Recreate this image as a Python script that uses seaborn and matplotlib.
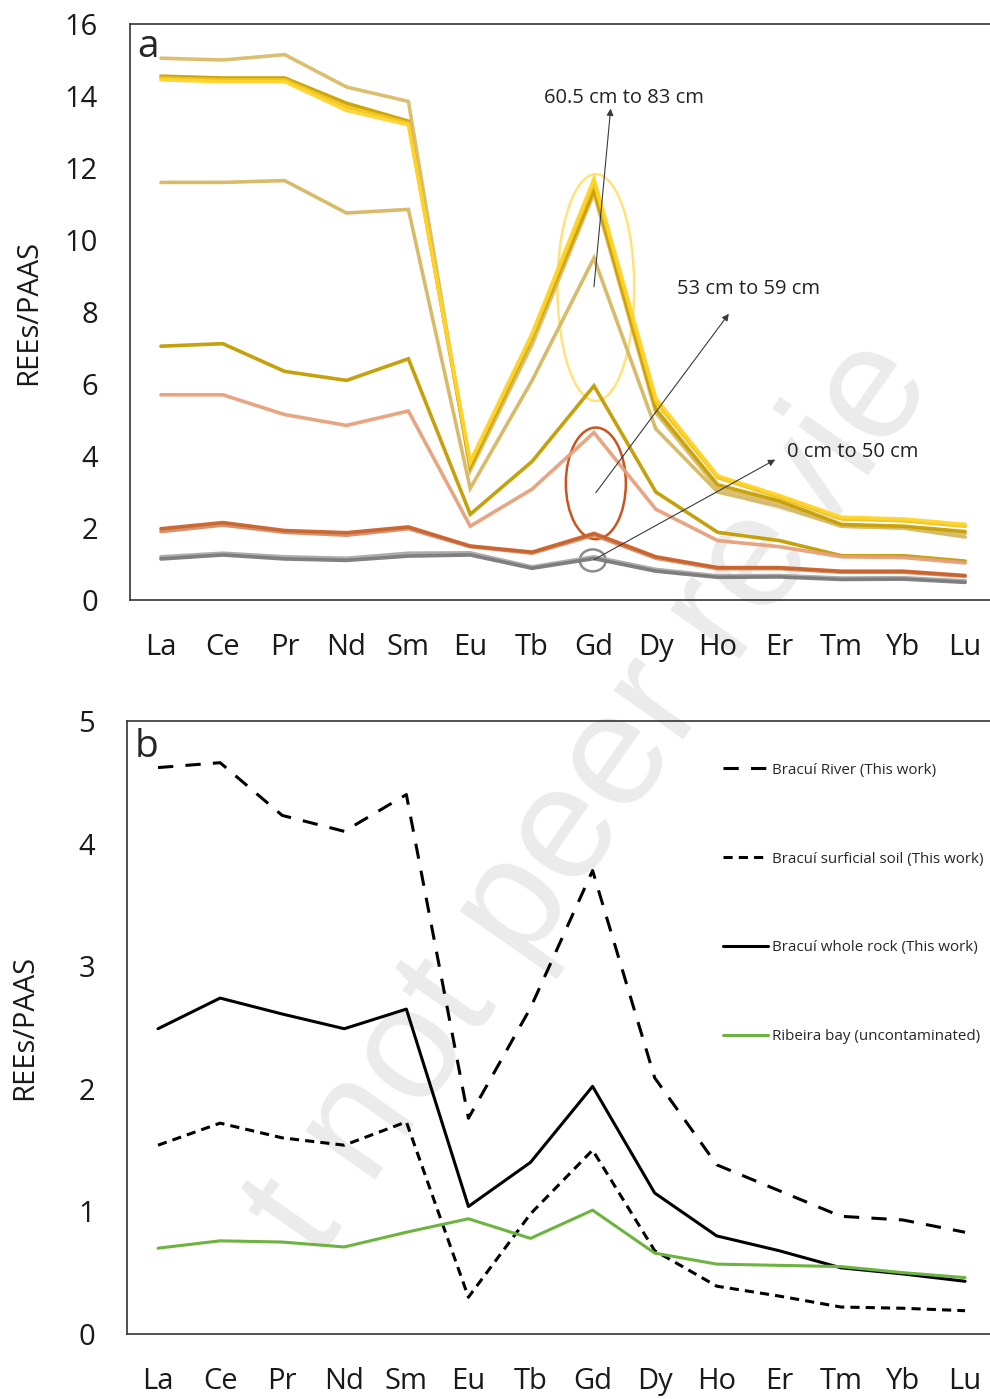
import numpy as np
import pandas as pd
import matplotlib
matplotlib.use("Agg")
import matplotlib.pyplot as plt
import seaborn as sns
from matplotlib.patches import Ellipse

sns.set_theme(style="white")
plt.rcParams["font.family"] = ["Open Sans", "DejaVu Sans"]

elements = ["La", "Ce", "Pr", "Nd", "Sm", "Eu", "Tb", "Gd", "Dy", "Ho", "Er", "Tm", "Yb", "Lu"]

# ---- panel a: sediment core profiles (REE / PAAS) ----
core_khaki_top = [15.05, 15.0, 15.15, 14.25, 13.85, 3.6, 7.1, 11.3, 5.2, 3.1, 2.7, 2.05, 2.0, 1.85]
core_gold_dark = [14.55, 14.5, 14.5, 13.8, 13.3, 3.7, 7.3, 11.4, 5.3, 3.2, 2.75, 2.1, 2.05, 1.9]
core_gold_mid = [14.5, 14.45, 14.45, 13.7, 13.25, 3.8, 7.35, 11.6, 5.5, 3.4, 2.85, 2.25, 2.2, 2.05]
core_yellow = [14.45, 14.4, 14.4, 13.6, 13.2, 3.85, 7.4, 11.7, 5.6, 3.45, 2.9, 2.3, 2.25, 2.1]
core_khaki_low = [11.6, 11.6, 11.65, 10.75, 10.85, 3.1, 6.1, 9.5, 4.75, 3.0, 2.6, 2.05, 2.0, 1.75]
core_ochre = [7.05, 7.12, 6.35, 6.1, 6.7, 2.38, 3.85, 5.95, 3.0, 1.88, 1.65, 1.23, 1.23, 1.08]
core_salmon = [5.7, 5.7, 5.15, 4.85, 5.25, 2.05, 3.08, 4.65, 2.52, 1.65, 1.48, 1.2, 1.18, 1.03]
core_rust = [1.98, 2.15, 1.93, 1.87, 2.03, 1.5, 1.33, 1.85, 1.2, 0.9, 0.9, 0.8, 0.8, 0.68]
core_rust_light = [1.9, 2.08, 1.88, 1.8, 1.98, 1.48, 1.3, 1.8, 1.16, 0.87, 0.87, 0.77, 0.77, 0.66]
core_grey_dark = [1.14, 1.25, 1.14, 1.1, 1.22, 1.25, 0.88, 1.15, 0.8, 0.63, 0.64, 0.57, 0.58, 0.49]
core_grey_light = [1.2, 1.3, 1.2, 1.16, 1.3, 1.31, 0.92, 1.2, 0.85, 0.67, 0.68, 0.61, 0.62, 0.53]

core_series = {
    "khaki_low": core_khaki_low,
    "khaki_top": core_khaki_top,
    "ochre": core_ochre,
    "salmon": core_salmon,
    "gold_dark": core_gold_dark,
    "gold_mid": core_gold_mid,
    "yellow": core_yellow,
    "rust_light": core_rust_light,
    "rust": core_rust,
    "grey_light": core_grey_light,
    "grey_dark": core_grey_dark,
}
core_colors = {
    "khaki_top": "#D9BC66",
    "gold_dark": "#C9A000",
    "gold_mid": "#F0C31C",
    "yellow": "#FFD42A",
    "khaki_low": "#D6B862",
    "ochre": "#C29C00",
    "salmon": "#E6A07A",
    "rust": "#C8622A",
    "rust_light": "#D88A64",
    "grey_dark": "#7A7A7A",
    "grey_light": "#A8A8A8",
}

# ---- panel b: reference materials ----
river = [4.62, 4.66, 4.23, 4.10, 4.40, 1.76, 2.66, 3.78, 2.09, 1.38, 1.17, 0.96, 0.93, 0.83]
surficial_soil = [1.54, 1.72, 1.60, 1.54, 1.73, 0.30, 0.98, 1.50, 0.68, 0.39, 0.31, 0.22, 0.21, 0.19]
whole_rock = [2.49, 2.74, 2.61, 2.49, 2.65, 1.04, 1.40, 2.02, 1.15, 0.80, 0.68, 0.54, 0.49, 0.43]
ribeira_bay = [0.70, 0.76, 0.75, 0.71, 0.83, 0.94, 0.78, 1.01, 0.66, 0.57, 0.56, 0.55, 0.50, 0.46]

ref_labels = ["Bracuí River (This work)", "Bracuí surficial soil (This work)",
              "Bracuí whole rock (This work)", "Ribeira bay (uncontaminated)"]

x_pos = np.arange(len(elements))

fig = plt.figure(figsize=(9.9, 13.99), dpi=100)

# faint diagonal watermark behind both panels
fig.text(0.598, 0.43, "t not peer revie", rotation=55, fontsize=116,
         color="#EBEBEB", ha="center", va="center", zorder=-5,
         family=["Liberation Sans", "DejaVu Sans"])

ax_a = fig.add_axes([130 / 990, 1 - 600 / 1399, 863 / 990, 576 / 1399])
ax_b = fig.add_axes([127 / 990, 1 - 1334 / 1399, 866 / 990, 613 / 1399])
for ax in (ax_a, ax_b):
    ax.patch.set_alpha(0)

# panel a lines
df_a = pd.DataFrame({
    "pos": np.tile(x_pos, len(core_series)),
    "value": np.concatenate([core_series[k] for k in core_series]),
    "series": np.repeat(list(core_series.keys()), len(x_pos)),
})
for name in core_series:
    sub = df_a[df_a["series"] == name]
    sns.lineplot(data=sub, x="pos", y="value", ax=ax_a, color=core_colors[name],
                 linewidth=2.6, alpha=0.95, solid_joinstyle="miter", legend=False)

ax_a.add_patch(Ellipse((7.03, 8.68), 1.24, 6.3, fill=False, edgecolor="#FFE27A", lw=1.8))
ax_a.add_patch(Ellipse((7.03, 3.24), 0.97, 3.1, fill=False, edgecolor="#C8541E", lw=1.8))
ax_a.add_patch(Ellipse((6.98, 1.1), 0.42, 0.61, fill=False, edgecolor="#8C8C8C", lw=1.8))

arrow_kw = dict(arrowstyle="-|>", color="#3A3A3A", lw=0.8, mutation_scale=10,
                shrinkA=0, shrinkB=0)
ax_a.annotate("", xy=(7.27, 13.65), xytext=(7.0, 8.7), arrowprops=arrow_kw)
ax_a.annotate("", xy=(9.18, 7.95), xytext=(7.03, 2.98), arrowprops=arrow_kw)
ax_a.annotate("", xy=(9.93, 3.9), xytext=(7.0, 1.12), arrowprops=arrow_kw)
ax_a.text(7.49, 13.95, "60.5 cm to 83 cm", fontsize=14.5, ha="center", va="center", color="#222222")
ax_a.text(9.49, 8.65, "53 cm to 59 cm", fontsize=14.5, ha="center", va="center", color="#222222")
ax_a.text(10.12, 4.1, "0 cm to 50 cm", fontsize=14.5, ha="left", va="center", color="#222222")

# panel b lines
df_b = pd.DataFrame({
    "pos": np.tile(x_pos, 4),
    "value": np.concatenate([river, surficial_soil, whole_rock, ribeira_bay]),
    "source": np.repeat(ref_labels, len(x_pos)),
})
styles_b = {
    ref_labels[0]: dict(color="black", dashes=(5.0, 4.0)),
    ref_labels[1]: dict(color="black", dashes=(3.0, 2.0)),
    ref_labels[2]: dict(color="black", dashes=None),
    ref_labels[3]: dict(color="#6DB33F", dashes=None),
}
for lab in ref_labels:
    sub = df_b[df_b["source"] == lab]
    st = styles_b[lab]
    sns.lineplot(data=sub, x="pos", y="value", ax=ax_b, color=st["color"],
                 linewidth=2.2, label=lab)
    if st["dashes"] is not None:
        ax_b.lines[-1].set_dashes(st["dashes"])

handles, labels = ax_b.get_legend_handles_labels()
for h, lab in zip(handles, labels):
    if styles_b[lab]["dashes"] is not None:
        h.set_dashes(styles_b[lab]["dashes"])
ax_b.legend(handles, labels, loc="upper left", bbox_to_anchor=(0.688, 0.932),
            frameon=False, fontsize=10.9, handlelength=3.0, handletextpad=0.25,
            labelspacing=4.88, borderpad=0, borderaxespad=0)

# shared axis styling
for ax, ymax, yticks in ((ax_a, 16, np.arange(0, 17, 2)), (ax_b, 5, np.arange(0, 6, 1))):
    ax.set_xlim(-0.5, 13.45)
    ax.set_ylim(0, ymax)
    ax.set_xticks(x_pos)
    ax.set_xticklabels(elements)
    ax.set_xticks(x_pos[:-1] + 0.5, minor=True)
    ax.set_yticks(yticks)
    ax.tick_params(axis="x", which="major", length=0, labelsize=21, pad=24, colors="#1A1A1A")
    ax.tick_params(axis="x", which="minor", direction="in", length=9, width=1.0, color="#333333")
    ax.tick_params(axis="y", direction="in", length=9, width=1.0, color="#333333",
                   labelsize=21, pad=23, labelcolor="#1A1A1A")
    ax.set_xlabel("")
    ax.set_ylabel("REEs/PAAS", fontsize=21, color="#1A1A1A")
    ax.yaxis.label.set_ha("center")
    ax.yaxis.label.set_va("center")
    for sp in ax.spines.values():
        sp.set_color("#333333")
        sp.set_linewidth(1.2)

ax_a.yaxis.set_label_coords(-0.118, 0.5)
ax_b.yaxis.set_label_coords(-0.118, 0.5)

ax_a.text(0.008, 0.943, "a", transform=ax_a.transAxes, fontsize=28, va="baseline", ha="left")
ax_b.text(0.009, 0.941, "b", transform=ax_b.transAxes, fontsize=28, va="baseline", ha="left")

fig.savefig("out.png", dpi=100)
